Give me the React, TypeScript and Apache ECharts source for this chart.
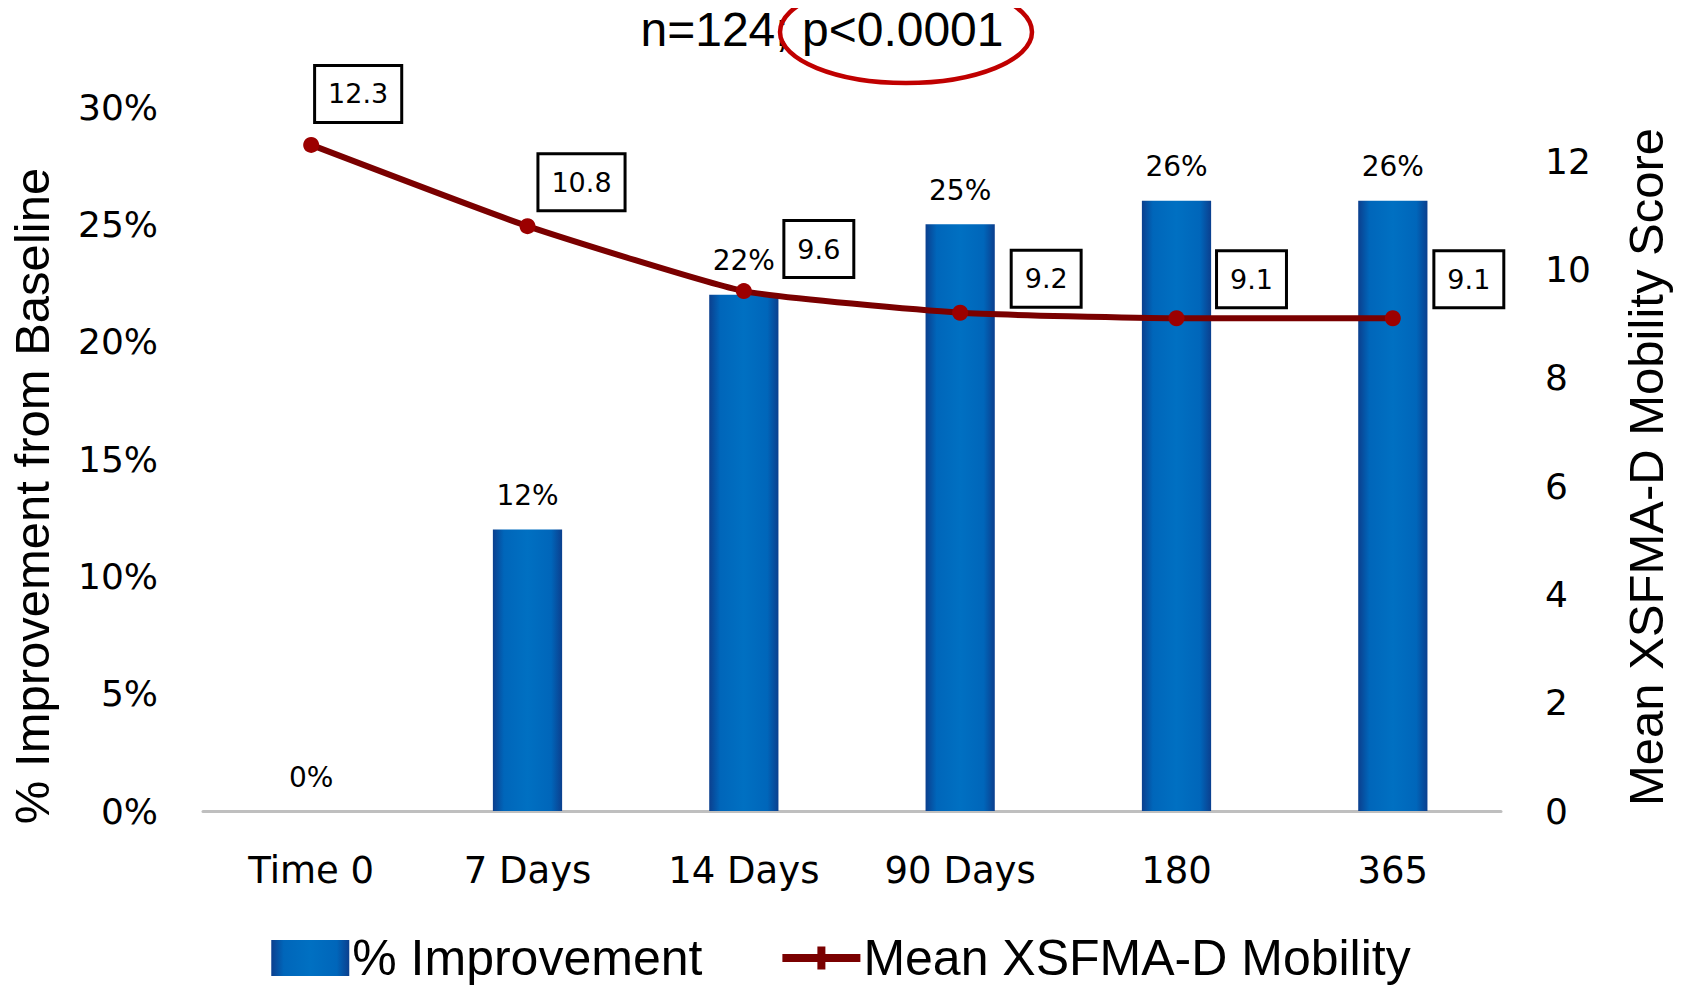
import React, { useEffect, useRef } from "react";
import * as echarts from "echarts";

const categories = ["Time 0", "7 Days", "14 Days", "90 Days", "180", "365"];
const improvementPct = [0, 12, 22, 25, 26, 26];
const mobilityScore = [12.3, 10.8, 9.6, 9.2, 9.1, 9.1];
const titleText = "n=124; p<0.0001";
const barName = "% Improvement";
const lineName = "Mean XSFMA-D Mobility";
const leftAxisName = "% Improvement from Baseline";
const rightAxisName = "Mean XSFMA-D Mobility Score";

// label box offsets (layout only)
const lineLabelOffsets = [
  [47, -51],
  [54, -44],
  [75, -42],
  [86, -34],
  [75, -39],
  [76, -39],
];

const SANS = "'Liberation Sans', Arial, sans-serif";
const TICK = "'DejaVu Sans', Verdana, sans-serif";
const LEGEND_LINE_ICON =
  "path://M0,14 L35,14 L35,6.5 L43,6.5 L43,14 L78,14 L78,22 L43,22 L43,29.5 L35,29.5 L35,22 L0,22 Z";

export default function App() {
  const ref = useRef<HTMLDivElement>(null);
  useEffect(() => {
    if (!ref.current) return;
    const chart = echarts.init(ref.current, undefined, { renderer: "svg" });
    const barGradient = new echarts.graphic.LinearGradient(0, 0, 1, 0, [
      { offset: 0, color: "#0b3f8e" },
      { offset: 0.16, color: "#0066ba" },
      { offset: 0.5, color: "#0070c2" },
      { offset: 0.84, color: "#0066ba" },
      { offset: 1, color: "#0b3f8e" },
    ]);
    chart.setOption({
      animation: false,
      backgroundColor: "#ffffff",
      textStyle: { fontFamily: SANS },
      graphic: [
        {
          type: "rect",
          shape: { x: 200, y: 0, width: 1482, height: 8 },
          style: {
            fill: new echarts.graphic.LinearGradient(0, 0, 1, 0, [
              { offset: 0, color: "#ffffff" },
              { offset: 0.3, color: "#eef0ec" },
              { offset: 1, color: "#e3e7e1" },
            ]),
          },
          z: 0,
        },
        {
          type: "text",
          x: 822,
          y: 29,
          style: {
            text: titleText,
            font: `48px ${SANS}`,
            fill: "#000000",
            align: "center",
            verticalAlign: "middle",
          },
          z: 10,
        },
        {
          type: "ellipse",
          shape: { cx: 906, cy: 32, rx: 126, ry: 51 },
          style: { fill: "none", stroke: "#c00000", lineWidth: 4.5 },
          z: 11,
        },
        {
          type: "text",
          x: 32,
          y: 496,
          rotation: Math.PI / 2,
          style: {
            text: leftAxisName,
            font: `49px ${SANS}`,
            fill: "#000000",
            align: "center",
            verticalAlign: "middle",
          },
          z: 10,
        },
        {
          type: "text",
          x: 1646,
          y: 467,
          rotation: Math.PI / 2,
          style: {
            text: rightAxisName,
            font: `49px ${SANS}`,
            fill: "#000000",
            align: "center",
            verticalAlign: "middle",
          },
          z: 10,
        },
      ],
      grid: {
        left: 203,
        right: 181,
        top: 107,
        bottom: 182,
        containLabel: false,
        outerBoundsMode: "none",
      },
      legend: {
        data: [
          { name: barName, icon: "rect" },
          { name: lineName, icon: LEGEND_LINE_ICON, itemStyle: { color: "#7a0000" } },
        ],
        top: 928,
        left: "center",
        itemWidth: 78,
        itemHeight: 36,
        itemGap: 80,
        textStyle: { fontFamily: SANS, fontSize: 50, color: "#000000", padding: [0, 0, 0, -2] },
      },
      xAxis: {
        type: "category",
        data: categories,
        axisLine: { show: true, lineStyle: { color: "#bfbfbf", width: 3 } },
        axisTick: { show: false },
        axisLabel: { fontFamily: TICK, fontSize: 37, color: "#000000", margin: 41 },
        splitLine: { show: false },
      },
      yAxis: [
        {
          type: "value",
          min: 0,
          max: 30,
          interval: 5,
          axisLine: { show: false },
          axisTick: { show: false },
          splitLine: { show: false },
          axisLabel: {
            formatter: "{value}%",
            fontFamily: TICK,
            fontSize: 36,
            color: "#000000",
            margin: 45,
          },
        },
        {
          type: "value",
          min: 0,
          max: 13,
          interval: 2,
          position: "right",
          axisLine: { show: false },
          axisTick: { show: false },
          splitLine: { show: false },
          axisLabel: {
            showMaxLabel: false,
            fontFamily: TICK,
            fontSize: 36,
            color: "#000000",
            margin: 44,
          },
        },
      ],
      series: [
        {
          name: barName,
          type: "bar",
          yAxisIndex: 0,
          data: improvementPct,
          barWidth: "32%",
          itemStyle: { color: barGradient },
          label: {
            show: true,
            position: "top",
            distance: 20,
            formatter: "{c}%",
            fontFamily: TICK,
            fontSize: 28,
            color: "#000000",
          },
          z: 2,
        },
        {
          name: lineName,
          type: "line",
          yAxisIndex: 1,
          smooth: 0.15,
          symbol: "circle",
          symbolSize: 16,
          lineStyle: { color: "#7a0000", width: 6 },
          itemStyle: { color: "#9c0000" },
          data: mobilityScore.map((v, i) => ({
            value: v,
            label: { offset: lineLabelOffsets[i] },
          })),
          label: {
            show: true,
            position: "inside",
            formatter: (p: any) => p.value.toFixed(1),
            fontFamily: TICK,
            fontSize: 27,
            lineHeight: 28,
            color: "#000000",
            backgroundColor: "#ffffff",
            borderColor: "#000000",
            borderWidth: 3,
            padding: [13, 12, 13, 12],
          },
          z: 5,
        },
      ],
    });
    return () => chart.dispose();
  }, []);
  return <div ref={ref} style={{ width: 1682, height: 993, margin: -8 }} />;
}
